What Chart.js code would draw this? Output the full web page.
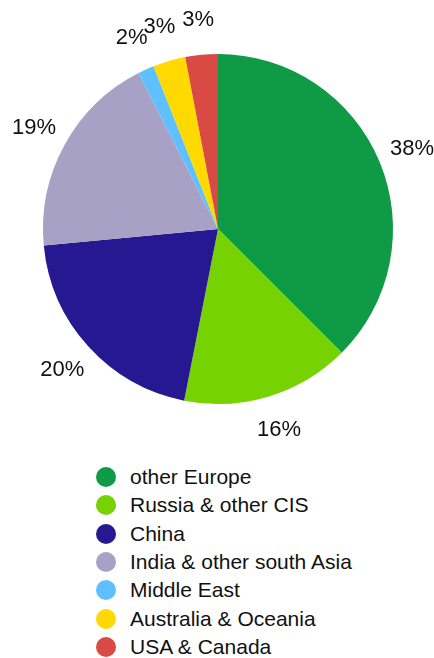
<!DOCTYPE html>
<html>
<head>
<meta charset="utf-8">
<script src="https://cdn.jsdelivr.net/npm/chart.js@4"></script>
<style>
  body { margin: 0; background: #fff; }
  #wrap { position: relative; width: 434px; height: 658px; }
  #pie { position: absolute; left: 0; top: 0; }
  #legenda { position: absolute; left: 96px; top: 463px; font-family: "Liberation Sans", Arial, sans-serif; font-size: 21px; color: #111; }
  .item { height: 28.3px; display: flex; align-items: center; white-space: nowrap; }
  .bola { width: 20px; height: 20px; border-radius: 50%; margin-right: 14px; flex: none; }
</style>
</head>
<body>
<div id="wrap">
  <canvas id="pie" width="434" height="460"></canvas>
  <div id="legenda"></div>
</div>
<script>
// dados do gráfico (percentuais)
const regioes = ["other Europe", "Russia & other CIS", "China", "India & other south Asia", "Middle East", "Australia & Oceania", "USA & Canada"];
const valores = [37.5, 15.6, 20.4, 19.0, 1.5, 3.0, 3.0];
const cores = ["#0f9a45", "#76d200", "#261891", "#a8a1c6", "#5ec0ff", "#ffd900", "#da4a44"];

// plugin simples para escrever os percentuais fora da pizza
const rotulosFora = {
  id: "rotulosFora",
  afterDatasetsDraw(chart) {
    const ctx = chart.ctx;
    const meta = chart.getDatasetMeta(0);
    ctx.save();
    ctx.font = "22px 'Liberation Sans', Arial, sans-serif";
    ctx.fillStyle = "#111";
    ctx.textAlign = "center";
    ctx.textBaseline = "middle";
    meta.data.forEach((arc, i) => {
      const meio = (arc.startAngle + arc.endAngle) / 2;
      const r = arc.outerRadius + 35;
      const x = arc.x + Math.cos(meio) * r;
      const y = arc.y + Math.sin(meio) * r;
      ctx.fillText(Math.round(valores[i]) + "%", x, y);
    });
    ctx.restore();
  },
};

new Chart(document.getElementById("pie"), {
  type: "pie",
  data: {
    labels: regioes,
    datasets: [
      {
        data: valores,
        backgroundColor: cores,
        borderWidth: 0,
      },
    ],
  },
  options: {
    responsive: false,
    animation: false,
    layout: {
      padding: { top: 54, bottom: 56, left: 43, right: 41 },
    },
    plugins: {
      legend: { display: false },
      tooltip: { enabled: false },
    },
  },
  plugins: [rotulosFora],
});

// legenda em HTML
const legenda = document.getElementById("legenda");
regioes.forEach((nome, i) => {
  const item = document.createElement("div");
  item.className = "item";
  item.innerHTML = `<span class="bola" style="background:${cores[i]}"></span><span>${nome}</span>`;
  legenda.appendChild(item);
});
</script>
</body>
</html>
